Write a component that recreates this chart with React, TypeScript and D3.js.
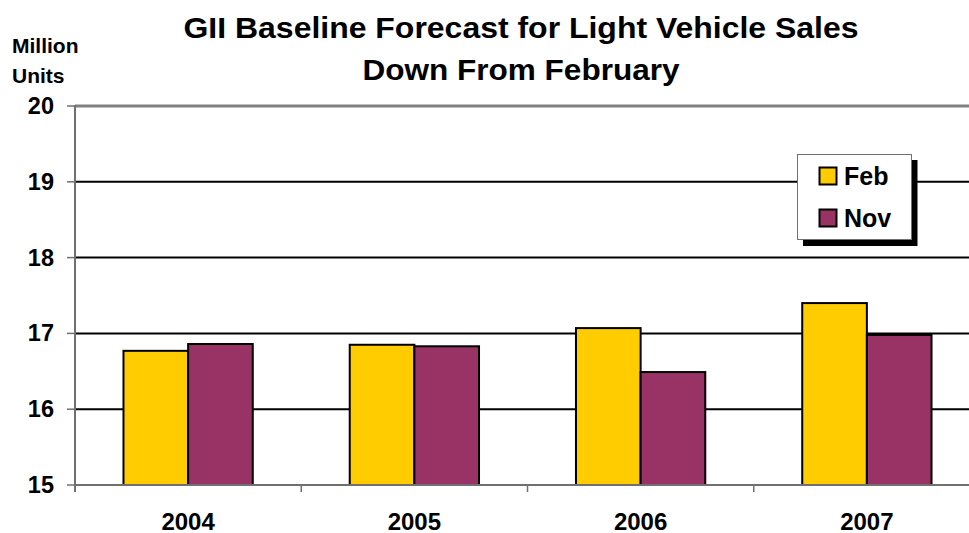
import React from "react";
import * as d3 from "d3";

const categories = ["2004", "2005", "2006", "2007"];
const seriesNames = ["Feb", "Nov"];
const febValues = [16.77, 16.85, 17.07, 17.40];
const novValues = [16.86, 16.83, 16.49, 16.98];
const yTicks = [15, 16, 17, 18, 19, 20];
const titleLines = ["GII Baseline Forecast for Light Vehicle Sales", "Down From February"];
const yAxisLabel = ["Million", "Units"];

const seriesColors: Record<string, string> = { Feb: "#FFCC00", Nov: "#993366" };

const W = 969;
const H = 533;
const FONT = "'Liberation Sans', Arial, sans-serif";

export default function App() {
  const x = d3.scaleBand<string>().domain(categories).range([75, 980]).padding(0);
  const xs = d3
    .scaleBand<string>()
    .domain(seriesNames)
    .range([0, x.bandwidth()])
    .paddingInner(0)
    .paddingOuter(0.75);
  const y = d3.scaleLinear().domain([15, 20]).range([485, 106]);

  const valuesBySeries: Record<string, number[]> = { Feb: febValues, Nov: novValues };
  const boundaries = categories.map((c) => x(c) as number).concat([x.range()[1]]);
  const titleWidths = [675, 317];

  return (
    <svg
      width={W}
      height={H}
      style={{ position: "absolute", left: 0, top: 0, background: "#fff" }}
      fontFamily={FONT}
    >
      {/* title */}
      {titleLines.map((t, i) => (
        <text
          key={t}
          x={521}
          y={38 + i * 42}
          textAnchor="middle"
          fontSize={30}
          fontWeight="bold"
          fill="#000"
          textLength={titleWidths[i]}
          lengthAdjust="spacingAndGlyphs"
        >
          {t}
        </text>
      ))}
      {/* unit label */}
      {yAxisLabel.map((t, i) => (
        <text key={t} x={12} y={53 + i * 30} fontSize={21} fontWeight="bold" fill="#000">
          {t}
        </text>
      ))}

      {/* gridlines */}
      {yTicks
        .filter((v) => v !== 15 && v !== 20)
        .map((v) => (
          <line key={v} x1={75} x2={980} y1={y(v)} y2={y(v)} stroke="#000" strokeWidth={2} />
        ))}
      {/* plot top border */}
      <line x1={75} x2={980} y1={y(20)} y2={y(20)} stroke="#808080" strokeWidth={3} />

      {/* bars */}
      {seriesNames.map((s) =>
        categories.map((c, i) => {
          const v = valuesBySeries[s][i];
          const bx = (x(c) as number) + (xs(s) as number);
          return (
            <rect
              key={s + c}
              x={bx}
              y={y(v)}
              width={xs.bandwidth()}
              height={y(15) - y(v)}
              fill={seriesColors[s]}
              stroke="#000"
              strokeWidth={2}
            />
          );
        })
      )}

      {/* x axis */}
      <line x1={75} x2={980} y1={y(15)} y2={y(15)} stroke="#707070" strokeWidth={2} />
      {boundaries.map((bx, i) => (
        <line key={i} x1={bx} x2={bx} y1={y(15)} y2={y(15) + 7} stroke="#707070" strokeWidth={1.5} />
      ))}
      {categories.map((c) => (
        <text
          key={c}
          x={(x(c) as number) + x.bandwidth() / 2}
          y={529.5}
          textAnchor="middle"
          fontSize={24}
          fontWeight="bold"
          fill="#000"
        >
          {c}
        </text>
      ))}

      {/* y axis */}
      <line x1={75} x2={75} y1={y(20) - 1} y2={y(15) + 7} stroke="#707070" strokeWidth={2} />
      {yTicks.map((v) => (
        <g key={v}>
          <line x1={67} x2={75} y1={y(v)} y2={y(v)} stroke="#707070" strokeWidth={1.5} />
          <text x={54} y={y(v) + 8} textAnchor="end" fontSize={23.5} fontWeight="bold" fill="#000">
            {v}
          </text>
        </g>
      ))}

      {/* legend */}
      <g>
        <rect x={803} y={160} width={114.5} height={86} fill="#000" />
        <rect x={797.5} y={154.5} width={114} height={85} fill="#fff" stroke="#707070" strokeWidth={1} />
        {seriesNames.map((s, i) => (
          <g key={s}>
            <rect
              x={819.5}
              y={167.5 + i * 42}
              width={17}
              height={17}
              fill={seriesColors[s]}
              stroke="#000"
              strokeWidth={2}
            />
            <text x={844} y={184.5 + i * 42} fontSize={25} fontWeight="bold" fill="#000">
              {s}
            </text>
          </g>
        ))}
      </g>
    </svg>
  );
}
